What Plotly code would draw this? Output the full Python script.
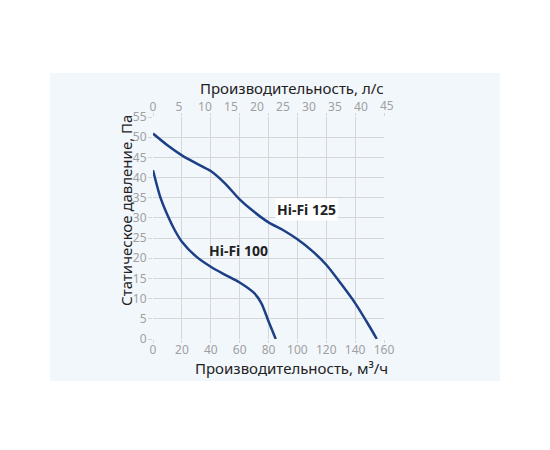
import plotly.graph_objects as go

# Hi-Fi 125: расход, м3/ч и статическое давление, Па
flow_125 = [0, 10, 20, 30, 40, 50, 60, 70, 80, 90, 100, 110, 120, 130, 140, 150, 155]
pres_125 = [50.9, 48.0, 45.5, 43.5, 41.6, 38.5, 34.6, 31.5, 28.9, 27.0, 24.7, 21.9, 18.4, 13.8, 8.9, 3.1, 0]

# Hi-Fi 100
flow_100 = [0, 5, 10, 15, 20, 30, 40, 50, 60, 70, 75, 80, 85]
pres_100 = [41.8, 35.2, 30.7, 27.0, 24.1, 20.4, 17.9, 15.9, 14.0, 11.4, 8.9, 4.4, 0]

x_ticks = [0, 20, 40, 60, 80, 100, 120, 140, 160]
y_ticks = [0, 5, 10, 15, 20, 25, 30, 35, 40, 45, 50, 55]
top_ticks = [0, 5, 10, 15, 20, 25, 30, 35, 40, 45]

line_color = "#1c3f86"
grid_color = "#d6d6d6"
tick_color = "#a0a0a0"
text_color = "#222222"
panel_color = "#f2f7fc"
font_family = "Noto Sans"

fig = go.Figure()
fig.add_trace(go.Scatter(x=flow_125, y=pres_125, mode="lines",
                         line=dict(color=line_color, width=2.5, shape="spline", smoothing=0.8),
                         showlegend=False, hoverinfo="skip"))
fig.add_trace(go.Scatter(x=flow_100, y=pres_100, mode="lines",
                         line=dict(color=line_color, width=2.5, shape="spline", smoothing=0.8),
                         showlegend=False, hoverinfo="skip"))

# подписи кривых
fig.add_annotation(x=106.6, y=32, text="<b>Hi-Fi 125</b>", showarrow=False, bgcolor="white",
                   xanchor="center", yanchor="middle",
                   font=dict(family=font_family, size=14, color=text_color))
fig.add_annotation(x=59.3, y=21.9, text="<b>Hi-Fi 100</b>", showarrow=False,
                   xanchor="center", yanchor="middle",
                   font=dict(family=font_family, size=14, color=text_color))

# заголовки осей
fig.add_annotation(xref="paper", yref="paper", x=0.6, y=1.0, yshift=29,
                   xanchor="center", yanchor="middle",
                   text="Производительность, л/с", showarrow=False,
                   font=dict(family=font_family, size=15, color=text_color))
fig.add_annotation(xref="paper", yref="paper", x=0.6, y=0.0, yshift=-29,
                   xanchor="center", yanchor="middle",
                   text="Производительность, м³/ч", showarrow=False,
                   font=dict(family=font_family, size=15, color=text_color))
fig.add_annotation(xref="paper", yref="paper", x=0.0, y=0.577, xshift=-27,
                   xanchor="center", yanchor="middle",
                   text="Статическое давление, Па", showarrow=False, textangle=-90,
                   font=dict(family=font_family, size=15, color=text_color))
# последняя метка верхней оси за краем сетки
fig.add_annotation(xref="paper", yref="paper", x=1.0, y=1.0, xshift=3, yshift=12,
                   xanchor="center", yanchor="middle",
                   text="45", showarrow=False,
                   font=dict(family=font_family, size=12, color=tick_color))

fig.update_layout(
    width=542, height=442,
    margin=dict(l=145, r=166, t=109, b=111),
    paper_bgcolor="white",
    plot_bgcolor="white",
    font=dict(family=font_family),
    shapes=[dict(type="rect", xref="paper", yref="paper", x0=-0.446, x1=1.502,
                 y0=-0.189, y1=1.198, fillcolor=panel_color, line=dict(width=0), layer="below")],
    xaxis=dict(range=[0, 160], tickvals=x_ticks, showgrid=True, gridcolor=grid_color, gridwidth=1.3,
               zeroline=False, showline=False, ticks="outside", ticklen=3, tickcolor=grid_color,
               ticklabelstandoff=-3,
               tickfont=dict(size=12, color=tick_color), mirror="ticks", fixedrange=True),
    xaxis2=dict(range=[0, 160 / 3.6], tickvals=top_ticks, overlaying="x", side="top",
                showgrid=False, zeroline=False, showline=False, ticks="",
                ticklabelstandoff=3,
                tickfont=dict(size=12, color=tick_color), fixedrange=True),
    yaxis=dict(range=[0, 55], tickvals=y_ticks, showgrid=True, gridcolor=grid_color, gridwidth=1.3,
               zeroline=False, showline=False, ticks="outside", ticklen=4, tickcolor=grid_color,
               ticklabelstandoff=-1,
               tickfont=dict(size=12, color=tick_color), fixedrange=True),
)
# пустой след для верхней оси
fig.add_trace(go.Scatter(x=[0], y=[0], xaxis="x2", mode="markers", marker=dict(opacity=0),
                         showlegend=False, hoverinfo="skip"))

fig.write_html("out.html")
